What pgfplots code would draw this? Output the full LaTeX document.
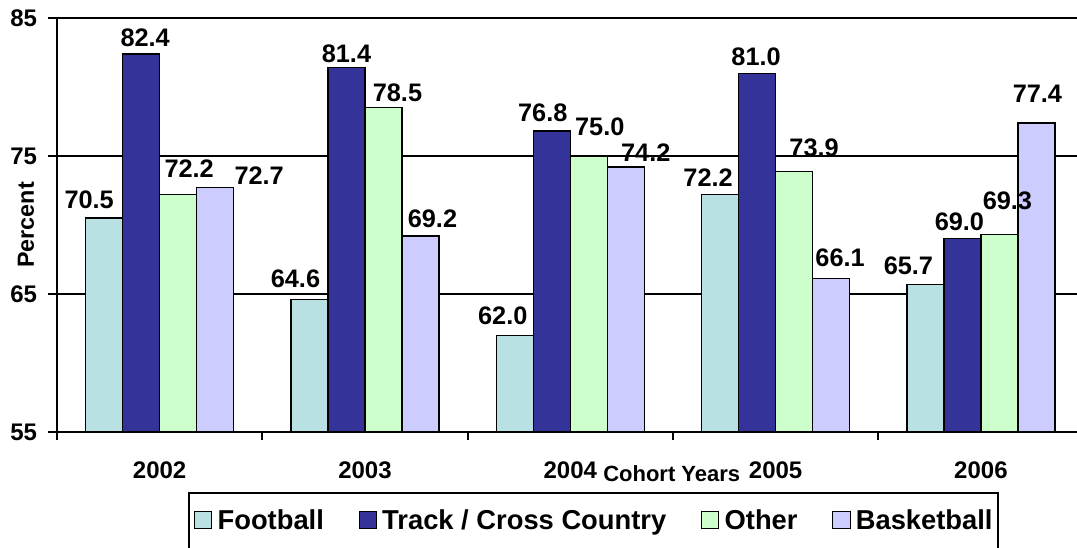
\documentclass[border=0pt]{standalone}
\usepackage{fontspec}
\setmainfont{Liberation Sans}
\usepackage{pgfplots}
\usepackage{pgfplotstable}
\pgfplotsset{compat=1.18}
\definecolor{cFoot}{RGB}{185,224,227}
\definecolor{cTrack}{RGB}{51,51,153}
\definecolor{cOther}{RGB}{204,255,204}
\definecolor{cBask}{RGB}{204,204,255}
\pgfplotstableread{
x y dx dy
0 70.5 -11.25 6.75
1 64.6 -10.5 8.25
2 62.0 -9 7.5
3 72.2 -9 5.25
4 65.7 -12.75 6.75
}\football
\pgfplotstableread{
x y dx dy
0 82.4 3 4.5
1 81.4 0 3
2 76.8 -6.75 6.75
3 81.0 -0.75 5.25
4 69.0 -2.25 5.25
}\track
\pgfplotstableread{
x y dx dy
0 72.2 8.25 12
1 78.5 10.5 3.75
2 75.0 8.25 15
3 73.9 15 10.5
4 69.3 6 18
}\other
\pgfplotstableread{
x y dx dy
0 72.7 33 2.25
1 69.2 9 6
2 74.2 15 3.75
3 66.1 6.75 8.25
4 77.4 0.75 15
}\basket
\begin{document}
\begin{tikzpicture}
\useasboundingbox (0,0) rectangle (807.75pt,411pt);
\begin{axis}[
  at={(42.75pt,87pt)}, anchor=south west,
  scale only axis, width=765pt, height=310.5pt,
  xmin=-0.5, xmax=4.468, ymin=55, ymax=85,
  axis lines*=left,
  axis line style={black, line width=1.5pt},
  clip=false,
  ybar=0pt, bar width=27.75pt,
  /pgf/number format/assume math mode=true,
  xtick={0,1,2,3,4},
  xticklabels={2002,2003,2004,2005,2006},
  minor xtick={-0.5,0.5,1.5,2.5,3.5},
  every major x tick/.append style={draw=none},
  ytick={55,65,75,85},
  yticklabels={55,65,75,85},
  tick align=outside,
  major tick length=6.75pt,
  minor tick length=6pt,
  tick style={black, line width=1.5pt},
  ymajorgrids,
  grid style={black, line width=1.5pt},
  ticklabel style={font=\fontsize{18}{21}\selectfont\bfseries, inner sep=0pt},
  xticklabel style={anchor=base, yshift=-28pt},
  yticklabel style={anchor=east, xshift=-8pt},
  xlabel={Cohort Years},
  xlabel style={at={(axis description cs:0.5353,-0.1184)}, anchor=base west, inner sep=0pt, font=\fontsize{16.5}{20}\selectfont\bfseries},
  ylabel={Percent},
  ylabel style={at={(axis description cs:-0.0304,0.5)}, anchor=center, inner sep=0pt, font=\fontsize{17.5}{21}\selectfont\bfseries},
  nodes near coords={\pgfmathprintnumber[fixed,fixed zerofill,precision=1]{\pgfplotspointmeta}},
  visualization depends on={\thisrow{dx} \as \dx},
  visualization depends on={\thisrow{dy} \as \dy},
  nodes near coords style={anchor=south, inner sep=0pt, xshift=\dx pt, yshift=\dy pt, font=\fontsize{19}{22}\selectfont\bfseries, text=black},
  legend columns=4,
  legend style={at={(axis description cs:0.1284,-0.1449)}, anchor=north west,
    draw=black, line width=1.5pt, inner xsep=3.75pt, inner ysep=11.75pt,
    font=\fontsize{20.5}{24}\selectfont\bfseries,
    nodes={inner sep=0pt, text height=15.5pt, text depth=3pt},
    /tikz/every odd column/.append style={column sep=4pt},
    /tikz/every even column/.append style={column sep=26pt}},
  legend image code/.code={\draw[#1, draw=black, line width=0.75pt] (0pt,-5.65pt) rectangle (13pt,7.1pt);},
]
\addplot[fill=cFoot, draw=black, line width=1pt] table[x=x,y=y] {\football};
\addplot[fill=cTrack, draw=black, line width=1pt] table[x=x,y=y] {\track};
\addplot[fill=cOther, draw=black, line width=1pt] table[x=x,y=y] {\other};
\addplot[fill=cBask, draw=black, line width=1pt] table[x=x,y=y] {\basket};
\legend{Football, Track / Cross Country, Other, Basketball}
\end{axis}
\end{tikzpicture}
\end{document}
